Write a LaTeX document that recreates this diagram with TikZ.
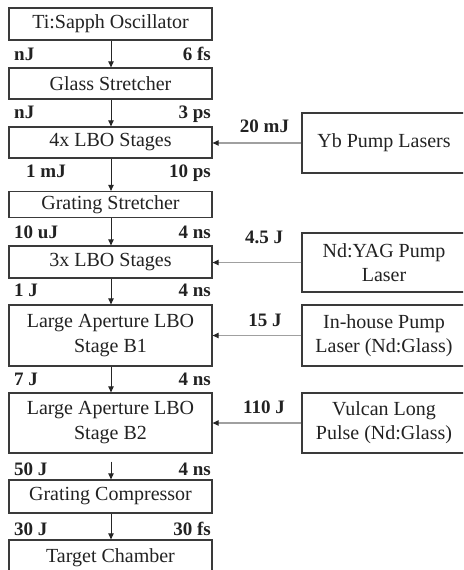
\documentclass[tikz,border=0pt]{standalone}
\usepackage{fontspec}
\setmainfont{Liberation Serif}
\usetikzlibrary{arrows.meta}
\definecolor{boxline}{HTML}{3A3A3A}
\definecolor{txt}{HTML}{222222}
\definecolor{pumpline}{HTML}{A0A0A0}
\tikzset{
  stage/.style={draw=boxline, line width=1.3pt, fill=white, minimum width=203pt, inner sep=0pt,
    align=center, text=txt, font=\fontsize{20}{25}\selectfont},
  pump/.style={draw=boxline, line width=1.3pt, fill=white, minimum width=164pt, inner sep=0pt,
    align=center, text=txt, font=\fontsize{20}{24}\selectfont},
  lbl/.style={inner sep=0pt, text=txt, font=\fontsize{19}{22}\selectfont\bfseries},
  flow/.style={draw=black!85, line width=1pt, -{Triangle[length=6pt,width=5.5pt]}},
  feed/.style={draw=pumpline, line width=1.1pt, arrows={-{Triangle[length=6pt,width=5.5pt,fill=black!85,color=black!85]}}}
}
\begin{document}
\begin{tikzpicture}[x=1pt,y=-1pt]
\useasboundingbox (0,0) rectangle (463,570);
\fill[white] (0,0) rectangle (463,570);
\clip (0,0) rectangle (463,570);
% left column
\node[stage, minimum height=32pt] (osc) at (110.5,24) {Ti:Sapph Oscillator};
\node[stage, minimum height=31pt] (glass) at (110.5,83.5) {Glass Stretcher};
\node[stage, minimum height=31pt] (lbo4) at (110.5,142.5) {4x LBO Stages};
\node[stage, minimum height=26pt] (gstr) at (110.5,204.5) {Grating Stretcher};
\node[stage, minimum height=32pt] (lbo3) at (110.5,262) {3x LBO Stages};
\node[stage, minimum height=61pt] (b1) at (110.5,335.5) {Large Aperture LBO\\Stage B1};
\node[stage, minimum height=60pt] (b2) at (110.5,423) {Large Aperture LBO\\Stage B2};
\node[stage, minimum height=33pt] (comp) at (110.5,496.5) {Grating Compressor};
\node[stage, minimum height=36pt] (target) at (110.5,558) {Target Chamber};
% right column
\node[pump, minimum height=60pt] (yb) at (384,143) {Yb Pump Lasers};
\node[pump, minimum height=59pt] (yag) at (384,262.5) {Nd:YAG Pump\\Laser};
\node[pump, minimum height=61pt] (inh) at (384,335.5) {In-house Pump\\Laser (Nd:Glass)};
\node[pump, minimum height=60pt] (vul) at (384,423) {Vulcan Long\\Pulse (Nd:Glass)};
% vertical flow
\draw[flow] (osc.south -| 111,0) -- (glass.north -| 111,0);
\draw[flow] (glass.south -| 111,0) -- (lbo4.north -| 111,0);
\draw[flow] (lbo4.south -| 111,0) -- (gstr.north -| 111,0);
\draw[flow] (gstr.south -| 111,0) -- (lbo3.north -| 111,0);
\draw[flow] (lbo3.south -| 111,0) -- (b1.north -| 111,0);
\draw[flow] (b1.south -| 111,0) -- (b2.north -| 111,0);
\draw[flow, shorten <=8pt] (b2.south -| 111,0) -- (comp.north -| 111,0);
\draw[flow] (comp.south -| 111,0) -- (target.north -| 111,0);
% pump feeds
\draw[feed] (yb.west) -- (yb.west -| lbo4.east);
\draw[feed] (yag.west) -- (yag.west -| lbo3.east);
\draw[feed] (inh.west) -- (inh.west -| b1.east);
\draw[feed] (vul.west) -- (vul.west -| b2.east);
\node[lbl, anchor=base] (e20) at (264.5,132) {20 mJ};
\node[lbl, anchor=base] (e45) at (264,243) {4.5 J};
\node[lbl, anchor=base] (e15) at (265,326) {15 J};
\node[lbl, anchor=base] (e110) at (264,413) {110 J};
% pulse labels
\node[lbl, anchor=base west] (l1) at (14,60.5) {nJ};
\node[lbl, anchor=base east] (r1) at (211,60.5) {6 fs};
\node[lbl, anchor=base west] (l2) at (14,118) {nJ};
\node[lbl, anchor=base east] (r2) at (211,118) {3 ps};
\node[lbl, anchor=base west] (l3) at (26,177) {1 mJ};
\node[lbl, anchor=base east] (r3) at (211,177) {10 ps};
\node[lbl, anchor=base west] (l4) at (14,238) {10 uJ};
\node[lbl, anchor=base east] (r4) at (211,238) {4 ns};
\node[lbl, anchor=base west] (l5) at (14,296) {1 J};
\node[lbl, anchor=base east] (r5) at (211,296) {4 ns};
\node[lbl, anchor=base west] (l6) at (14,385) {7 J};
\node[lbl, anchor=base east] (r6) at (211,385) {4 ns};
\node[lbl, anchor=base west] (l7) at (14,475) {50 J};
\node[lbl, anchor=base east] (r7) at (211,475) {4 ns};
\node[lbl, anchor=base west] (l8) at (14,535) {30 J};
\node[lbl, anchor=base east] (r8) at (211,535) {30 fs};
\end{tikzpicture}
\end{document}
